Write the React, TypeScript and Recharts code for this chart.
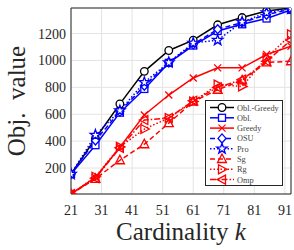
import { CartesianGrid, Line, LineChart, ReferenceLine, XAxis, YAxis } from "recharts";

const K = [21, 29, 37, 45, 53, 61, 69, 77, 85, 93];
const X_TICKS = [21, 31, 41, 51, 61, 71, 81, 91];
const Y_TICKS = [200, 400, 600, 800, 1000, 1200];

const OBL_GREEDY = [155, 420, 677, 919, 1074, 1151, 1265, 1319, 1367, 1390];
const OBL = [155, 370, 612, 788, 982, 1111, 1219, 1269, 1312, 1376];
const GREEDY = [7, 130, 355, 595, 743, 870, 945, 945, 1044, 1106];
const OSU = [155, 405, 620, 812, 985, 1120, 1232, 1282, 1340, 1382];
const PRO = [155, 445, 627, 837, 985, 1130, 1151, 1286, 1356, 1385];
const SG = [7, 120, 258, 377, 534, 694, 782, 852, 985, 994];
const RG = [7, 135, 357, 490, 572, 694, 820, 807, 1019, 1194];
const OMP = [7, 125, 350, 557, 572, 700, 800, 857, 994, 1150];

type Shape = "circle" | "square" | "x" | "diamond" | "star" | "triUp" | "triRight" | "triLeft";

const SERIES: { key: string; name: string; values: number[]; color: string; dash?: string; shape: Shape }[] = [
  { key: "oblGreedy", name: "Obl.-Greedy", values: OBL_GREEDY, color: "#000000", shape: "circle" },
  { key: "obl", name: "Obl.", values: OBL, color: "#0000ff", shape: "square" },
  { key: "greedy", name: "Greedy", values: GREEDY, color: "#ff0000", shape: "x" },
  { key: "osu", name: "OSU", values: OSU, color: "#0000ff", dash: "5 3", shape: "diamond" },
  { key: "pro", name: "Pro", values: PRO, color: "#0000ff", dash: "1.5 2", shape: "star" },
  { key: "sg", name: "Sg", values: SG, color: "#ff0000", dash: "5 3", shape: "triUp" },
  { key: "rg", name: "Rg", values: RG, color: "#ff0000", dash: "1.5 2", shape: "triRight" },
  { key: "omp", name: "Omp", values: OMP, color: "#ff0000", dash: "6 2 1.5 2", shape: "triLeft" }
];

const data = K.map((k, i) => {
  const row: Record<string, number> = { k };
  SERIES.forEach((s) => {
    row[s.key] = s.values[i];
  });
  return row;
});

const SERIF = "'Liberation Serif', 'DejaVu Serif', serif";
const INK = "#262626";

function Marker({ shape, cx, cy, color }: { shape: Shape; cx: number; cy: number; color: string }) {
  const common = { stroke: color, strokeWidth: 1.3, fill: "#ffffff" };
  switch (shape) {
    case "circle":
      return <circle cx={cx} cy={cy} r={3.8} {...common} />;
    case "square":
      return <rect x={cx - 3.5} y={cy - 3.5} width={7} height={7} {...common} />;
    case "x":
      return (
        <g stroke={color} strokeWidth={1.3}>
          <line x1={cx - 3.5} y1={cy - 3.5} x2={cx + 3.5} y2={cy + 3.5} />
          <line x1={cx - 3.5} y1={cy + 3.5} x2={cx + 3.5} y2={cy - 3.5} />
        </g>
      );
    case "diamond":
      return <polygon points={`${cx},${cy - 4.5} ${cx + 4},${cy} ${cx},${cy + 4.5} ${cx - 4},${cy}`} {...common} />;
    case "star": {
      const pts: string[] = [];
      for (let i = 0; i < 10; i++) {
        const r = i % 2 === 0 ? 5.5 : 2.2;
        const a = -Math.PI / 2 + (i * Math.PI) / 5;
        pts.push(`${cx + r * Math.cos(a)},${cy + r * Math.sin(a)}`);
      }
      return <polygon points={pts.join(" ")} {...common} />;
    }
    case "triUp":
      return <polygon points={`${cx},${cy - 5} ${cx + 4.5},${cy + 3.5} ${cx - 4.5},${cy + 3.5}`} {...common} fill="none" />;
    case "triRight":
      return <polygon points={`${cx + 5},${cy} ${cx - 3.5},${cy - 4.5} ${cx - 3.5},${cy + 4.5}`} {...common} fill="none" />;
    case "triLeft":
      return <polygon points={`${cx - 5},${cy} ${cx + 3.5},${cy - 4.5} ${cx + 3.5},${cy + 4.5}`} {...common} fill="none" />;
  }
  return null;
}

function LegendBox() {
  return (
    <div
      style={{
        position: "absolute",
        left: 205,
        top: 100,
        width: 78,
        height: 86,
        background: "#ffffff",
        border: "1px solid #262626",
        boxSizing: "border-box"
      }}
    >
      <svg width={78} height={86} style={{ position: "absolute", left: -1, top: -1 }}>
        {SERIES.map((s, i) => {
          const y = 7.5 + i * 10.3;
          return (
            <g key={s.key}>
              <line x1={5} x2={29} y1={y} y2={y} stroke={s.color} strokeWidth={1.5} strokeDasharray={s.dash} />
              <Marker shape={s.shape} cx={17} cy={y} color={s.color} />
              <text x={32} y={y + 3} fontFamily={SERIF} fontSize={8.3} fill="#444444">
                {s.name}
              </text>
            </g>
          );
        })}
      </svg>
    </div>
  );
}

export default function App() {
  return (
    <div style={{ position: "absolute", left: 0, top: 0, width: 294, height: 250, background: "#ffffff" }}>
      <LineChart width={294} height={250} data={data} margin={{ top: 8, right: 3, left: 0, bottom: 0 }}>
        <CartesianGrid stroke="#e3e3e3" strokeWidth={1} />
        <XAxis
          dataKey="k"
          type="number"
          domain={[21, 93]}
          ticks={X_TICKS}
          height={56}
          tickLine={false}
          tickSize={0}
          tickMargin={11}
          stroke={INK}
          tick={{ fill: INK, fontFamily: SERIF, fontSize: 14 }}
          allowDataOverflow
        />
        <YAxis
          type="number"
          domain={[7, 1390]}
          ticks={Y_TICKS}
          width={71}
          tickLine={false}
          tickSize={0}
          tickMargin={5}
          stroke={INK}
          tick={{ fill: INK, fontFamily: SERIF, fontSize: 14 }}
          allowDataOverflow
        />
        <ReferenceLine y={1390} stroke={INK} />
        <ReferenceLine x={93} stroke={INK} />
        {SERIES.map((s) => (
          <Line
            key={s.key}
            dataKey={s.key}
            name={s.name}
            stroke={s.color}
            strokeWidth={1.5}
            strokeDasharray={s.dash}
            isAnimationActive={false}
            dot={(p: any) => <Marker key={`${s.key}-${p.index}`} shape={s.shape} cx={p.cx} cy={p.cy} color={s.color} />}
          />
        ))}
      </LineChart>
      <svg width={294} height={250} style={{ position: "absolute", left: 0, top: 0, pointerEvents: "none" }}>
        <text x={181} y={240} textAnchor="middle" fontFamily={SERIF} fontSize={25} fill={INK}>
          Cardinality <tspan fontStyle="italic">k</tspan>
        </text>
        <text
          transform="translate(25,101) rotate(-90)"
          textAnchor="middle"
          fontFamily={SERIF}
          fontSize={25}
          fill={INK}
          xmlSpace="preserve"
        >
          Obj.  value
        </text>
      </svg>
      <LegendBox />
    </div>
  );
}
